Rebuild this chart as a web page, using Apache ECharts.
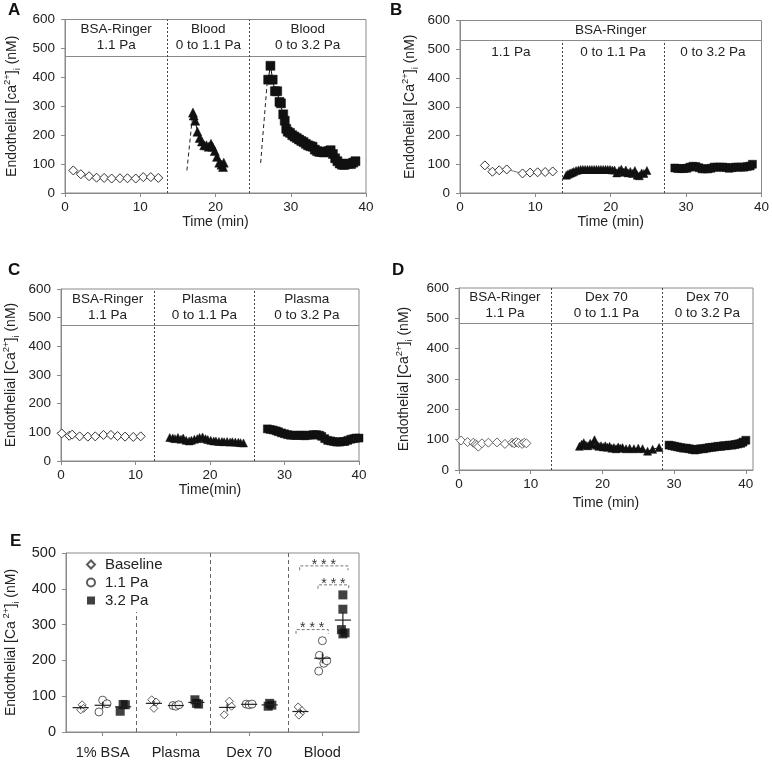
<!DOCTYPE html>
<html>
<head>
<meta charset="utf-8">
<script src="https://cdn.jsdelivr.net/npm/echarts@6/dist/echarts.min.js"></script>
<style>
html,body{margin:0;padding:0;background:#fff;}
#chart{width:772px;height:760px;}
</style>
</head>
<body>
<div id="chart"></div>
<script>
// ---------------- DATA ----------------
// Panel A
const aBsaT = [1.1, 2.1, 3.2, 4.2, 5.2, 6.2, 7.3, 8.3, 9.4, 10.4, 11.4, 12.4];
const aBsaV = [78, 65, 58, 53, 52, 50, 51, 51, 50, 55, 55, 52];
const aRise1T = [16.2, 17.0];
const aRise1V = [78, 280];
const aBldT = [17.0, 17.1, 17.3, 17.6, 17.9, 18.2, 18.5, 18.8, 19.1, 19.4, 19.6, 19.9, 20.2, 20.5, 20.8, 21.0, 21.1];
const aBldV = [278, 268, 250, 212, 190, 178, 165, 165, 160, 170, 160, 145, 125, 105, 98, 90, 105];
const aRise2T = [26.0, 26.9];
const aRise2V = [104, 392];
const aHiT = [27.0, 27.3, 27.6, 27.9, 28.2, 28.5, 28.7, 29.0, 29.2, 29.4, 29.6, 29.9, 30.2, 30.5, 30.8, 31.1, 31.4, 31.7, 32.0, 32.3, 32.6, 32.9, 33.2, 33.5, 33.8, 34.1, 34.4, 34.7, 35.0, 35.3, 35.6, 35.9, 36.2, 36.5, 36.8, 37.1, 37.4, 37.7, 38.0, 38.3, 38.6];
const aHiV = [392, 440, 392, 352, 352, 315, 310, 272, 250, 222, 212, 208, 200, 195, 190, 185, 180, 176, 170, 165, 162, 160, 150, 145, 142, 142, 140, 143, 145, 148, 135, 120, 110, 102, 98, 97, 100, 102, 100, 105, 110];
// Panel B
const bBsaT = [3.3, 4.3, 5.2, 6.2, 8.3, 9.3, 10.3, 11.3, 12.3];
const bBsaV = [96, 74, 79, 82, 68, 71, 72, 73, 75];
const bTriT = [14.1, 14.3, 14.5, 14.7, 14.9, 15.1, 15.4, 15.7, 16.0, 16.3, 16.6, 16.9, 17.2, 17.5, 17.8, 18.1, 18.4, 18.7, 19.0, 19.3, 19.6, 19.9, 20.2, 20.5, 20.8, 21.1, 21.4, 21.7, 22.0, 22.3, 22.6, 22.9, 23.2, 23.5, 23.8, 24.1, 24.4, 24.8];
const bTriV = [62, 65, 68, 70, 72, 75, 78, 80, 82, 82, 82, 82, 82, 82, 82, 82, 82, 82, 82, 82, 82, 82, 80, 80, 70, 78, 83, 72, 80, 70, 75, 68, 78, 62, 60, 70, 68, 78];
const bSqT = [28.5, 28.9, 29.3, 29.7, 30.1, 30.5, 30.9, 31.3, 31.7, 32.1, 32.5, 32.9, 33.3, 33.7, 34.1, 34.5, 34.9, 35.3, 35.7, 36.1, 36.5, 36.9, 37.3, 37.7, 38.1, 38.5, 38.8];
const bSqV = [87, 85, 85, 85, 86, 90, 93, 92, 88, 84, 84, 84, 86, 90, 90, 90, 90, 89, 86, 88, 90, 90, 90, 90, 92, 94, 100];
// Panel C
const cBsaT = [0.1, 1.1, 1.5, 2.5, 3.6, 4.6, 5.7, 6.7, 7.6, 8.6, 9.7, 10.7];
const cBsaV = [96, 88, 92, 86, 85, 86, 91, 91, 87, 85, 84, 86];
const cTriT = [14.6, 15.0, 15.3, 15.7, 16.1, 16.4, 16.8, 17.2, 17.5, 17.9, 18.3, 18.6, 19.0, 19.4, 19.7, 20.1, 20.5, 20.8, 21.2, 21.6, 21.9, 22.3, 22.7, 23.0, 23.4, 23.8, 24.1, 24.5];
const cTriV = [82, 80, 78, 82, 76, 80, 72, 70, 72, 76, 78, 82, 84, 78, 75, 72, 70, 70, 68, 68, 67, 68, 66, 67, 66, 65, 64, 63];
const cSqT = [27.7, 28.1, 28.5, 28.9, 29.2, 29.6, 30.0, 30.4, 30.8, 31.2, 31.6, 32.0, 32.3, 32.7, 33.1, 33.5, 33.9, 34.3, 34.7, 35.0, 35.4, 35.8, 36.2, 36.6, 37.0, 37.4, 37.8, 38.1, 38.5, 38.9, 39.3, 39.6, 40.0];
const cSqV = [112, 110, 108, 105, 102, 98, 95, 92, 90, 90, 89, 90, 90, 88, 90, 90, 92, 92, 90, 86, 78, 72, 70, 68, 66, 66, 68, 68, 72, 76, 78, 80, 80];
// Panel D
const dBsaT = [0.3, 1.2, 2.0, 2.3, 2.5, 2.7, 3.2, 4.1, 5.3, 6.4, 7.4, 7.7, 8.0, 8.3, 8.8, 9.1, 9.4];
const dBsaV = [97, 92, 90, 85, 82, 77, 88, 90, 91, 86, 90, 88, 92, 89, 86, 90, 88];
const dTriT = [16.8, 17.1, 17.4, 17.7, 18.0, 18.3, 18.6, 18.9, 19.2, 19.5, 19.8, 20.1, 20.4, 20.7, 21.0, 21.3, 21.6, 21.9, 22.2, 22.5, 22.8, 23.3, 23.8, 24.4, 25.0, 25.6, 26.3, 27.0, 27.9];
const dTriV = [78, 85, 90, 82, 80, 88, 85, 100, 82, 78, 80, 76, 80, 75, 78, 72, 74, 70, 76, 72, 74, 70, 72, 70, 72, 70, 62, 68, 74];
const dSqT = [29.3, 29.7, 30.1, 30.5, 30.9, 31.3, 31.7, 32.1, 32.5, 32.9, 33.3, 33.7, 34.1, 34.5, 34.9, 35.3, 35.7, 36.1, 36.5, 36.9, 37.3, 37.7, 38.1, 38.5, 38.9, 39.3, 39.6, 40.0];
const dSqV = [82, 80, 78, 76, 74, 72, 72, 70, 68, 66, 68, 70, 70, 72, 74, 75, 76, 78, 78, 80, 80, 82, 82, 84, 86, 88, 92, 98];

// Headers / separators (time in min, header base in nM)
const aSeps = [13.6, 24.5], aHeadBase = 474;
const aHeads = ['BSA-Ringer\n1.1 Pa', 'Blood\n0 to 1.1 Pa', 'Blood\n0 to 3.2 Pa'];
const bSeps = [13.5, 27.1], bHeadBase = 530, bSubBase = 450;
const bHeadTop = 'BSA-Ringer';
const bHeads = ['1.1 Pa', '0 to 1.1 Pa', '0 to 3.2 Pa'];
const cSeps = [12.5, 26.0], cHeadBase = 472;
const cHeads = ['BSA-Ringer\n1.1 Pa', 'Plasma\n0 to 1.1 Pa', 'Plasma\n0 to 3.2 Pa'];
const dSeps = [12.8, 28.3], dHeadBase = 485;
const dHeads = ['BSA-Ringer\n1.1 Pa', 'Dex 70\n0 to 1.1 Pa', 'Dex 70\n0 to 3.2 Pa'];
const timeTicks = [0, 10, 20, 30, 40];
const caTicks = [0, 100, 200, 300, 400, 500, 600];

// Panel E
const eGroups = ['1% BSA', 'Plasma', 'Dex 70', 'Blood'];
const eSeriesNames = ['Baseline', '1.1 Pa', '3.2 Pa'];
const eBase = [[76, 66, 62], [90, 84, 66], [86, 72, 48], [70, 60, 52, 47]];
const e11 = [[89, 56, 79], [74, 72, 76], [78, 76, 78], [255, 214, 170, 192, 199]];
const e32 = [[77, 58, 76], [90, 80, 78], [80, 72, 75], [383, 343, 286, 277, 274]];
// small horizontal scatter of points within a condition (category units)
const eBaseJit = [[0.02, 0.04, 0.0], [-0.03, 0.03, 0.0], [0.03, 0.06, -0.04], [-0.03, 0.02, 0.0, -0.02]];
const e11Jit = [[0.0, -0.05, 0.06], [-0.04, 0.0, 0.04], [-0.04, 0.0, 0.04], [0.0, -0.04, -0.05, 0.02, 0.06]];
const e32Jit = [[0.0, -0.04, 0.03], [-0.02, 0.0, 0.03], [0.0, -0.02, 0.03], [0.0, 0.0, -0.02, 0.03, 0.0]];
const eOffsets = [-0.3, 0.0, 0.28];
const eSepX = [0.96, 1.97, 3.03];
const eFirstSepTop = 335;
const eTicks = [0, 100, 200, 300, 400, 500];
const sigX1 = [3.14, 3.44, 3.19];
const sigX2 = [3.58, 3.86, 3.85];
const sigY = [286, 411, 464];
const sigDrop = [12, 11, 12];

// ---------------- STYLE HELPERS ----------------
const FONT = '"Liberation Sans", Arial, Helvetica, sans-serif';
const AX = '#8a8a8a';
const TXT = '#222';
const zip = (t, v) => t.map((x, i) => [x, v[i]]);

function richName(ca, gap) {
  return '{n|Endothelial [' + ca + '}{sup|' + (gap ? ' ' : '') + '2+}{n|]}{sub|i}{n| (nM)}';
}
const nameRich = {
  n: { fontSize: 14, fontFamily: FONT, color: TXT, lineHeight: 20 },
  sup: { fontSize: 9.5, fontFamily: FONT, color: TXT, verticalAlign: 'top', lineHeight: 20 },
  sub: { fontSize: 9.5, fontFamily: FONT, color: TXT, verticalAlign: 'bottom', lineHeight: 16 }
};

const grids = [
  { left: 65, top: 19.5, width: 301, height: 173.5 },
  { left: 460, top: 20.5, width: 305, height: 172.5 },
  { left: 53, top: 289, width: 306, height: 172 },
  { left: 459, top: 288, width: 294, height: 182 },
  { left: 66, top: 553, width: 293, height: 182 }
].map(g => Object.assign({ show: true, borderColor: AX, borderWidth: 1, backgroundColor: 'transparent' }, g));

function timeAxis(idx, max, name, gap) {
  return {
    type: 'value', gridIndex: idx, min: 0, max: max, interval: 10,
    name: name, nameLocation: 'middle', nameGap: gap,
    nameTextStyle: { fontSize: 14, fontFamily: FONT, color: TXT },
    axisLine: { show: true, onZero: false, lineStyle: { color: AX, width: 1 } },
    axisTick: { show: true, inside: false, length: 4, lineStyle: { color: AX }, customValues: timeTicks },
    axisLabel: { fontSize: 13.5, fontFamily: FONT, color: TXT, margin: 7, customValues: timeTicks },
    splitLine: { show: false }
  };
}
function caAxis(idx, ticks, max, ca, gap, spaced) {
  return {
    type: 'value', gridIndex: idx, min: 0, max: max, interval: 100,
    name: richName(ca, spaced), nameLocation: 'middle', nameGap: gap,
    nameTextStyle: { rich: nameRich },
    axisLine: { show: true, onZero: false, lineStyle: { color: AX, width: 1 } },
    axisTick: { show: true, inside: false, length: 4, lineStyle: { color: AX }, customValues: ticks },
    axisLabel: { fontSize: idx === 4 ? 14.5 : 13.5, fontFamily: FONT, color: TXT, margin: 10, customValues: ticks },
    splitLine: { show: false }
  };
}

function openDiamonds(idx, t, v, stroke, extra) {
  return Object.assign({
    type: 'line', xAxisIndex: idx, yAxisIndex: idx, data: zip(t, v),
    symbol: 'diamond', symbolSize: 9, showAllSymbol: true, animation: false, z: 3,
    itemStyle: { color: '#fff', borderColor: stroke || '#333', borderWidth: 1 },
    lineStyle: { color: '#555', width: 0.8 }
  }, extra || {});
}
function filled(idx, t, v, sym, size) {
  return {
    type: 'line', xAxisIndex: idx, yAxisIndex: idx, data: zip(t, v),
    symbol: sym, symbolSize: size, showAllSymbol: true, animation: false, z: 3,
    itemStyle: { color: '#111', borderColor: '#111', borderWidth: 0.5 },
    lineStyle: { color: '#111', width: 1 }
  };
}
function dashedRise(idx, t, v) {
  return {
    type: 'line', xAxisIndex: idx, yAxisIndex: idx, data: zip(t, v), symbol: 'none',
    animation: false, lineStyle: { color: '#222', width: 1, type: [4, 3] }
  };
}
function frameMarks(seps, headBase, xmax) {
  const lines = [[{ coord: [0, headBase], lineStyle: { type: 'solid', color: AX, width: 1.2 } }, { coord: [xmax, headBase] }]];
  seps.forEach(s => lines.push([{ coord: [s, 0], lineStyle: { type: [2, 2], color: '#444', width: 1 } }, { coord: [s, 600] }]));
  return { silent: true, symbol: 'none', label: { show: false }, animation: false, data: lines };
}
function headAreas(seps, base, top, heads, xmax) {
  const edges = [0].concat(seps, [xmax]);
  return {
    silent: true, animation: false, itemStyle: { color: 'rgba(0,0,0,0)' },
    label: { show: true, position: 'inside', color: TXT, fontSize: 13.5, fontFamily: FONT, lineHeight: 16 },
    data: heads.map((h, i) => [{ name: h, xAxis: edges[i], yAxis: base }, { xAxis: edges[i + 1], yAxis: top }])
  };
}

// ---------------- SERIES ----------------
const series = [];
// A
series.push(openDiamonds(0, aBsaT, aBsaV, '#333', { markLine: frameMarks(aSeps, aHeadBase, 40), markArea: headAreas(aSeps, aHeadBase, 600, aHeads, 40) }));
series.push(dashedRise(0, aRise1T, aRise1V));
series.push(filled(0, aBldT, aBldV, 'triangle', 9));
series.push(dashedRise(0, aRise2T, aRise2V));
series.push(filled(0, aHiT, aHiV, 'rect', 9));
// B
const bAreas = headAreas(bSeps, bSubBase, bHeadBase, bHeads, 40);
bAreas.data.push([{ name: bHeadTop, xAxis: 0, yAxis: bHeadBase }, { xAxis: 40, yAxis: 600 }]);
const bMarks = frameMarks([], bHeadBase, 40);
bSeps.forEach(s => bMarks.data.push([{ coord: [s, 0], lineStyle: { type: [2, 2], color: '#444', width: 1 } }, { coord: [s, bHeadBase] }]));
series.push(openDiamonds(1, bBsaT, bBsaV, '#333', { markLine: bMarks, markArea: bAreas }));
series.push(filled(1, bTriT, bTriV, 'triangle', 8));
series.push(filled(1, bSqT, bSqV, 'rect', 8));
// C
series.push(openDiamonds(2, cBsaT, cBsaV, '#333', { markLine: frameMarks(cSeps, cHeadBase, 40), markArea: headAreas(cSeps, cHeadBase, 600, cHeads, 40) }));
series.push(filled(2, cTriT, cTriV, 'triangle', 8));
series.push(filled(2, cSqT, cSqV, 'rect', 8));
// D
series.push(openDiamonds(3, dBsaT, dBsaV, '#666', { markLine: frameMarks(dSeps, dHeadBase, 41), markArea: headAreas(dSeps, dHeadBase, 600, dHeads, 41) }));
series.push(filled(3, dTriT, dTriV, 'triangle', 8));
series.push(filled(3, dSqT, dSqV, 'rect', 8));

// E scatter
function ePoints(vals, jit, off) {
  const pts = [];
  vals.forEach((arr, g) => arr.forEach((v, k) => pts.push([g + 0.5 + off + jit[g][k], v])));
  return pts;
}
function eStats(vals, off) {
  return vals.map((arr, g) => {
    const n = arr.length;
    const m = arr.reduce((a, b) => a + b, 0) / n;
    const sd = Math.sqrt(arr.reduce((a, b) => a + (b - m) * (b - m), 0) / (n - 1));
    return [g + 0.5 + off, m, sd / Math.sqrt(n)];
  });
}
const eStyles = [
  { symbol: 'diamond', symbolSize: 8, itemStyle: { color: '#fff', borderColor: '#333', borderWidth: 1 } },
  { symbol: 'circle', symbolSize: 8, itemStyle: { color: '#fff', borderColor: '#333', borderWidth: 1 } },
  { symbol: 'rect', symbolSize: 9, itemStyle: { color: '#111', borderColor: '#111', borderWidth: 0 } }
];
const eVals = [eBase, e11, e32];
const eJits = [eBaseJit, e11Jit, e32Jit];
eVals.forEach((vals, s) => {
  const ser = Object.assign({
    type: 'scatter', name: eSeriesNames[s], xAxisIndex: 4, yAxisIndex: 4, animation: false, z: 3,
    data: ePoints(vals, eJits[s], eOffsets[s])
  }, eStyles[s]);
  if (s === 0) {
    ser.markLine = {
      silent: true, symbol: 'none', label: { show: false }, animation: false,
      lineStyle: { type: [4, 3], color: '#666', width: 1 },
      data: eSepX.map((x, i) => [{ coord: [x, 0] }, { coord: [x, i === 0 ? eFirstSepTop : 500] }])
    };
  }
  series.push(ser);
});
// mean +/- SEM
const meanData = [];
eVals.forEach((vals, s) => eStats(vals, eOffsets[s]).forEach(d => meanData.push(d)));
series.push({
  type: 'custom', xAxisIndex: 4, yAxisIndex: 4, animation: false, silent: true, z: 4,
  data: meanData,
  renderItem: function (params, api) {
    const x = api.value(0), m = api.value(1), s = api.value(2);
    const l = api.coord([x - 0.11, m]), r = api.coord([x + 0.11, m]);
    const t = api.coord([x, m + s]), b = api.coord([x, m - s]);
    return {
      type: 'group', children: [
        { type: 'line', shape: { x1: l[0], y1: l[1], x2: r[0], y2: r[1] }, style: { stroke: '#222', lineWidth: 1.2 } },
        { type: 'line', shape: { x1: t[0], y1: t[1], x2: b[0], y2: b[1] }, style: { stroke: '#222', lineWidth: 1.2 } }
      ]
    };
  }
});
// significance brackets
series.push({
  type: 'custom', xAxisIndex: 4, yAxisIndex: 4, animation: false, silent: true, z: 4,
  data: sigY.map((y, i) => [sigX1[i], sigX2[i], y, sigDrop[i]]),
  renderItem: function (params, api) {
    const x1 = api.value(0), x2 = api.value(1), y = api.value(2), d = api.value(3);
    const p1 = api.coord([x1, y]), p2 = api.coord([x2, y]);
    const p1b = api.coord([x1, y - d]), p2b = api.coord([x2, y - d]);
    return {
      type: 'group', children: [
        { type: 'polyline', shape: { points: [p1b, p1, p2, p2b] }, style: { stroke: '#777', lineWidth: 1, lineDash: [3, 2], fill: null } },
        { type: 'text', style: { text: '* * *', x: (p1[0] + p2[0]) / 2, y: p1[1] - 1, align: 'center', verticalAlign: 'middle', textAlign: 'center', textVerticalAlign: 'middle', fill: '#333', fontSize: 14, fontFamily: FONT } }
      ]
    };
  }
});

// ---------------- AXES ----------------
const xAxes = [
  timeAxis(0, 40, 'Time (min)', 22),
  timeAxis(1, 40, 'Time (min)', 22),
  timeAxis(2, 40, 'Time(min)', 21),
  timeAxis(3, 41, 'Time (min)', 26),
  {
    type: 'value', gridIndex: 4, min: 0, max: 4,
    axisLine: { show: true, onZero: false, lineStyle: { color: AX, width: 1 } },
    axisTick: { show: true, length: 4, lineStyle: { color: AX }, customValues: [0.5, 1.5, 2.5, 3.5] },
    axisLabel: { fontSize: 14.5, fontFamily: FONT, color: TXT, margin: 13, customValues: [0.5, 1.5, 2.5, 3.5], formatter: v => eGroups[Math.floor(v)] },
    splitLine: { show: false }
  }
];
const yAxes = [
  caAxis(0, caTicks, 600, 'ca', 43),
  caAxis(1, caTicks, 600, 'Ca', 40),
  caAxis(2, caTicks, 600, 'Ca', 40),
  caAxis(3, caTicks, 600, 'Ca', 45),
  caAxis(4, eTicks, 500, 'Ca', 45, true)
];

const letters = [['A', 8, 2], ['B', 390, 2], ['C', 8, 262], ['D', 392, 262], ['E', 10, 533]];

const option = {
  backgroundColor: '#fff',
  animation: false,
  textStyle: { fontFamily: FONT },
  grid: grids,
  xAxis: xAxes,
  yAxis: yAxes,
  legend: {
    left: 81, top: 552, orient: 'vertical', itemWidth: 8, itemHeight: 8, itemGap: 3,
    data: eSeriesNames, selectedMode: false,
    textStyle: { fontSize: 15, fontFamily: FONT, color: TXT, padding: [0, 0, 0, 5] }
  },
  graphic: letters.map(l => ({
    type: 'text', left: l[1], top: l[2],
    style: { text: l[0], fontSize: 17, fontWeight: 'bold', fontFamily: FONT, fill: '#111' }
  })),
  series: series
};

const chart = echarts.init(document.getElementById('chart'), null, { renderer: 'canvas' });
chart.setOption(option);
</script>
</body>
</html>
